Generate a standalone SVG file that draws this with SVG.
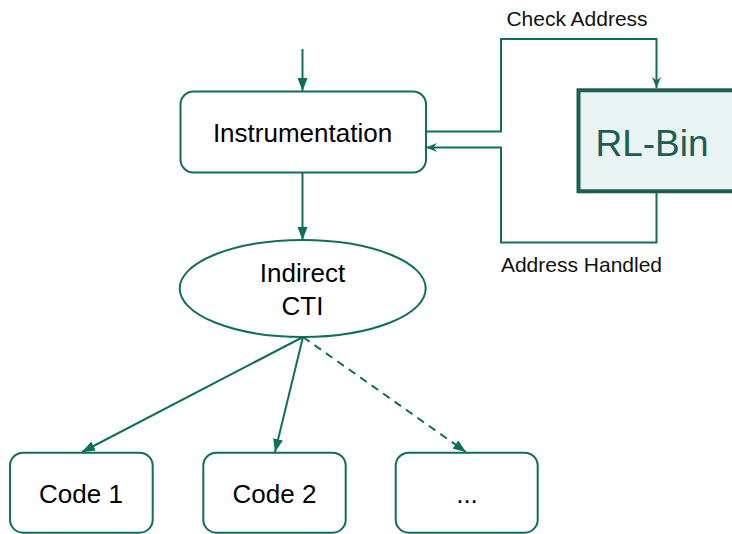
<svg xmlns="http://www.w3.org/2000/svg" width="732" height="534" viewBox="0 0 732 534">
  <defs>
    <marker id="tri" markerUnits="userSpaceOnUse" markerWidth="13" markerHeight="10" refX="13" refY="5" orient="auto" viewBox="0 0 13 10">
      <path d="M0,0 L13,5 L0,10 z" fill="#0f6e5e"/>
    </marker>
    <marker id="notch" markerUnits="userSpaceOnUse" markerWidth="11" markerHeight="9" refX="11" refY="4.5" orient="auto" viewBox="0 0 11 9">
      <path d="M0,0 L11,4.5 L0,9 L3.5,4.5 z" fill="#0f6e5e"/>
    </marker>
  </defs>
  <style>
    .node { fill: #ffffff; stroke: #0f6e5e; stroke-width: 2; }
    .txt { font-family: "Liberation Sans", Arial, sans-serif; font-size: 26px; fill: #000000; text-anchor: middle; }
    .lbl { font-family: "Liberation Sans", Arial, sans-serif; font-size: 21px; fill: #111111; text-anchor: middle; }
    .edge { fill: none; stroke: #0f6e5e; stroke-width: 2; }
    .dashed { stroke-dasharray: 8 6; }
  </style>

  <rect width="732" height="534" fill="#ffffff"/>

  <g id="connectors">
    <path class="edge" d="M302.5,49 L302.5,91" marker-end="url(#tri)"/>
    <path class="edge" d="M302.5,173 L302.5,240" marker-end="url(#tri)"/>
    <path class="edge" d="M303,337 L82,452" marker-end="url(#tri)"/>
    <path class="edge" d="M303,337 L275,452" marker-end="url(#tri)"/>
    <path class="edge dashed" d="M303,337 L466,452" marker-end="url(#tri)"/>
    <path class="edge" d="M426,131.5 L501,131.5 L501,39 L656.5,39 L656.5,88" marker-end="url(#notch)"/>
    <path class="edge" d="M656.5,193 L656.5,242.5 L501,242.5 L501,147.5 L426,147.5" marker-end="url(#notch)"/>
    <text class="lbl" x="577" y="25.5">Check Address</text>
    <text class="lbl" x="581.5" y="271.5">Address Handled</text>
  </g>

  <g id="instrumentation">
    <rect class="node" x="180.5" y="91.5" width="245.5" height="81" rx="13"/>
    <text class="txt" x="302.5" y="141.5">Instrumentation</text>
  </g>

  <g id="rl-bin">
    <rect x="578.5" y="90.3" width="170" height="101" fill="#e8f3f2" stroke="#1b5e54" stroke-width="4"/>
    <text x="652" y="155.5" font-family="'Liberation Sans', Arial, sans-serif" font-size="37" fill="#1b5e54" text-anchor="middle">RL-Bin</text>
  </g>

  <g id="indirect-cti">
    <ellipse class="node" cx="302.7" cy="288.5" rx="123" ry="48.5"/>
    <text class="txt" x="302.5" y="281.5">Indirect</text>
    <text class="txt" x="302.5" y="315">CTI</text>
  </g>

  <g id="code-1">
    <rect class="node" x="10" y="452.7" width="142.7" height="80" rx="13"/>
    <text class="txt" x="81" y="503">Code 1</text>
  </g>

  <g id="code-2">
    <rect class="node" x="203.3" y="452.7" width="142.4" height="80" rx="13"/>
    <text class="txt" x="274.5" y="503">Code 2</text>
  </g>

  <g id="code-more">
    <rect class="node" x="395.7" y="452.7" width="142" height="80" rx="13"/>
    <text class="txt" x="467" y="503">...</text>
  </g>
</svg>
